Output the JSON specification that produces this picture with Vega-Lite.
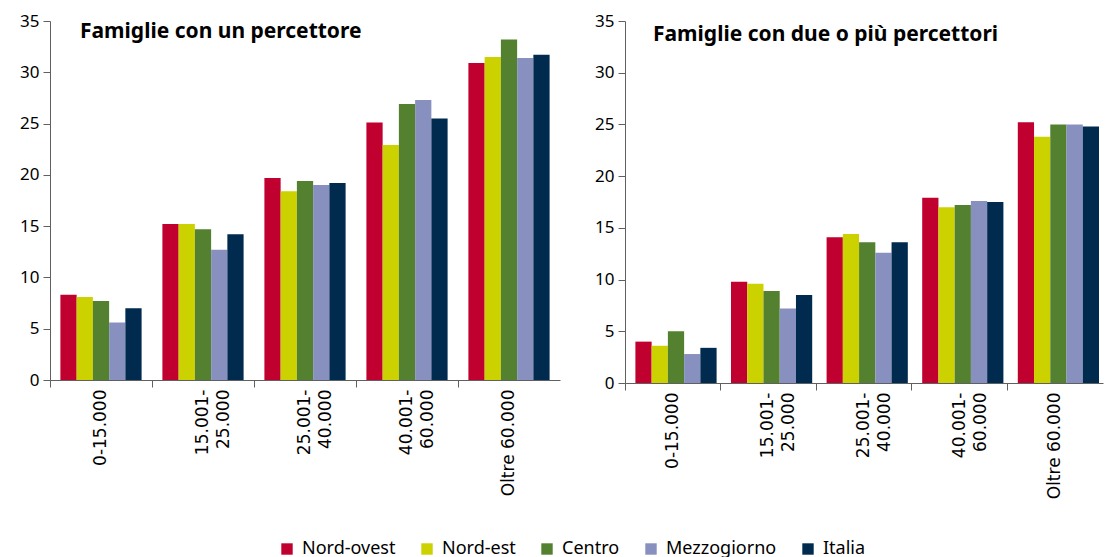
{
  "$schema": "https://vega.github.io/schema/vega-lite/v6.json",
  "background": "white",
  "padding": {"left": 19, "top": 12, "right": 2, "bottom": 0},
  "spacing": 34,
  "datasets": {
    "uno": [
      {"classe": "0-15.000", "area": "Nord-ovest", "valore": 8.3},
      {"classe": "0-15.000", "area": "Nord-est", "valore": 8.1},
      {"classe": "0-15.000", "area": "Centro", "valore": 7.7},
      {"classe": "0-15.000", "area": "Mezzogiorno", "valore": 5.6},
      {"classe": "0-15.000", "area": "Italia", "valore": 7.0},
      {"classe": "15.001-25.000", "area": "Nord-ovest", "valore": 15.2},
      {"classe": "15.001-25.000", "area": "Nord-est", "valore": 15.2},
      {"classe": "15.001-25.000", "area": "Centro", "valore": 14.7},
      {"classe": "15.001-25.000", "area": "Mezzogiorno", "valore": 12.7},
      {"classe": "15.001-25.000", "area": "Italia", "valore": 14.2},
      {"classe": "25.001-40.000", "area": "Nord-ovest", "valore": 19.7},
      {"classe": "25.001-40.000", "area": "Nord-est", "valore": 18.4},
      {"classe": "25.001-40.000", "area": "Centro", "valore": 19.4},
      {"classe": "25.001-40.000", "area": "Mezzogiorno", "valore": 19.0},
      {"classe": "25.001-40.000", "area": "Italia", "valore": 19.2},
      {"classe": "40.001-60.000", "area": "Nord-ovest", "valore": 25.1},
      {"classe": "40.001-60.000", "area": "Nord-est", "valore": 22.9},
      {"classe": "40.001-60.000", "area": "Centro", "valore": 26.9},
      {"classe": "40.001-60.000", "area": "Mezzogiorno", "valore": 27.3},
      {"classe": "40.001-60.000", "area": "Italia", "valore": 25.5},
      {"classe": "Oltre 60.000", "area": "Nord-ovest", "valore": 30.9},
      {"classe": "Oltre 60.000", "area": "Nord-est", "valore": 31.5},
      {"classe": "Oltre 60.000", "area": "Centro", "valore": 33.2},
      {"classe": "Oltre 60.000", "area": "Mezzogiorno", "valore": 31.4},
      {"classe": "Oltre 60.000", "area": "Italia", "valore": 31.7}
    ],
    "due": [
      {"classe": "0-15.000", "area": "Nord-ovest", "valore": 4.0},
      {"classe": "0-15.000", "area": "Nord-est", "valore": 3.6},
      {"classe": "0-15.000", "area": "Centro", "valore": 5.0},
      {"classe": "0-15.000", "area": "Mezzogiorno", "valore": 2.8},
      {"classe": "0-15.000", "area": "Italia", "valore": 3.4},
      {"classe": "15.001-25.000", "area": "Nord-ovest", "valore": 9.8},
      {"classe": "15.001-25.000", "area": "Nord-est", "valore": 9.6},
      {"classe": "15.001-25.000", "area": "Centro", "valore": 8.9},
      {"classe": "15.001-25.000", "area": "Mezzogiorno", "valore": 7.2},
      {"classe": "15.001-25.000", "area": "Italia", "valore": 8.5},
      {"classe": "25.001-40.000", "area": "Nord-ovest", "valore": 14.1},
      {"classe": "25.001-40.000", "area": "Nord-est", "valore": 14.4},
      {"classe": "25.001-40.000", "area": "Centro", "valore": 13.6},
      {"classe": "25.001-40.000", "area": "Mezzogiorno", "valore": 12.6},
      {"classe": "25.001-40.000", "area": "Italia", "valore": 13.6},
      {"classe": "40.001-60.000", "area": "Nord-ovest", "valore": 17.9},
      {"classe": "40.001-60.000", "area": "Nord-est", "valore": 17.0},
      {"classe": "40.001-60.000", "area": "Centro", "valore": 17.2},
      {"classe": "40.001-60.000", "area": "Mezzogiorno", "valore": 17.6},
      {"classe": "40.001-60.000", "area": "Italia", "valore": 17.5},
      {"classe": "Oltre 60.000", "area": "Nord-ovest", "valore": 25.2},
      {"classe": "Oltre 60.000", "area": "Nord-est", "valore": 23.8},
      {"classe": "Oltre 60.000", "area": "Centro", "valore": 25.0},
      {"classe": "Oltre 60.000", "area": "Mezzogiorno", "valore": 25.0},
      {"classe": "Oltre 60.000", "area": "Italia", "valore": 24.8}
    ]
  },
  "hconcat": [
    {
      "width": 510,
      "height": 359,
      "data": {"name": "uno"},
      "title": {"text": "Famiglie con un percettore", "anchor": "start", "frame": "group", "dx": 30, "dy": 47, "baseline": "alphabetic", "offset": 0},
      "mark": {"type": "bar"},
      "encoding": {
        "x": {"field": "classe", "type": "nominal", "sort": null, "title": null,
              "scale": {"paddingInner": 0, "paddingOuter": 0},
              "axis": {"bandPosition": 0, "labelAngle": -90, "labelExpr": "datum.label == 'Oltre 60.000' || datum.label == '0-15.000' ? datum.label : [slice(datum.label, 0, 7), slice(datum.label, 7)]"}},
        "xOffset": {"field": "area", "type": "nominal", "sort": ["Nord-ovest", "Nord-est", "Centro", "Mezzogiorno", "Italia"], "scale": {"paddingInner": 0, "paddingOuter": 0.64}},
        "y": {"field": "valore", "type": "quantitative", "title": null, "scale": {"domain": [0, 35], "nice": false}, "axis": {"values": [0, 5, 10, 15, 20, 25, 30, 35]}},
        "color": {"field": "area", "type": "nominal", "title": null, "sort": ["Nord-ovest", "Nord-est", "Centro", "Mezzogiorno", "Italia"],
                  "scale": {"domain": ["Nord-ovest", "Nord-est", "Centro", "Mezzogiorno", "Italia"], "range": ["#C0002E", "#CCD200", "#538130", "#8890C0", "#002A4E"]}}
      }
    },
    {
      "width": 478,
      "height": 362,
      "data": {"name": "due"},
      "title": {"text": "Famiglie con due o più percettori", "anchor": "start", "frame": "group", "dx": 28, "dy": 50, "baseline": "alphabetic", "offset": 0},
      "mark": {"type": "bar"},
      "encoding": {
        "x": {"field": "classe", "type": "nominal", "sort": null, "title": null,
              "scale": {"paddingInner": 0, "paddingOuter": 0},
              "axis": {"bandPosition": 0, "labelAngle": -90, "labelExpr": "datum.label == 'Oltre 60.000' || datum.label == '0-15.000' ? datum.label : [slice(datum.label, 0, 7), slice(datum.label, 7)]"}},
        "xOffset": {"field": "area", "type": "nominal", "sort": ["Nord-ovest", "Nord-est", "Centro", "Mezzogiorno", "Italia"], "scale": {"paddingInner": 0, "paddingOuter": 0.64}},
        "y": {"field": "valore", "type": "quantitative", "title": null, "scale": {"domain": [0, 35], "nice": false}, "axis": {"values": [0, 5, 10, 15, 20, 25, 30, 35]}},
        "color": {"field": "area", "type": "nominal", "title": null, "sort": ["Nord-ovest", "Nord-est", "Centro", "Mezzogiorno", "Italia"],
                  "scale": {"domain": ["Nord-ovest", "Nord-est", "Centro", "Mezzogiorno", "Italia"], "range": ["#C0002E", "#CCD200", "#538130", "#8890C0", "#002A4E"]}}
      }
    }
  ],
  "resolve": {"scale": {"color": "shared"}},
  "config": {
    "view": {"stroke": null},
    "font": "Noto Sans",
    "title": {"font": "Noto Sans", "fontSize": 21, "fontWeight": "bold", "color": "#000000"},
    "axis": {"grid": false, "domainColor": "#606060", "tickColor": "#606060", "labelColor": "#000000", "tickSize": 7},
    "axisY": {"labelFont": "Noto Sans", "labelFontSize": 17, "labelPadding": 4},
    "axisX": {"labelFont": "DejaVu Sans", "labelFontSize": 17, "labelPadding": 2, "labelLineHeight": 21},
    "legend": {"orient": "none", "legendX": 228, "legendY": 519, "direction": "horizontal", "symbolType": "square", "symbolSize": 130, "symbolStrokeWidth": 0, "labelFont": "Noto Sans", "labelFontSize": 18, "labelColor": "#000000", "columnPadding": 22, "symbolOffset": 0, "labelOffset": 6}
  }
}
